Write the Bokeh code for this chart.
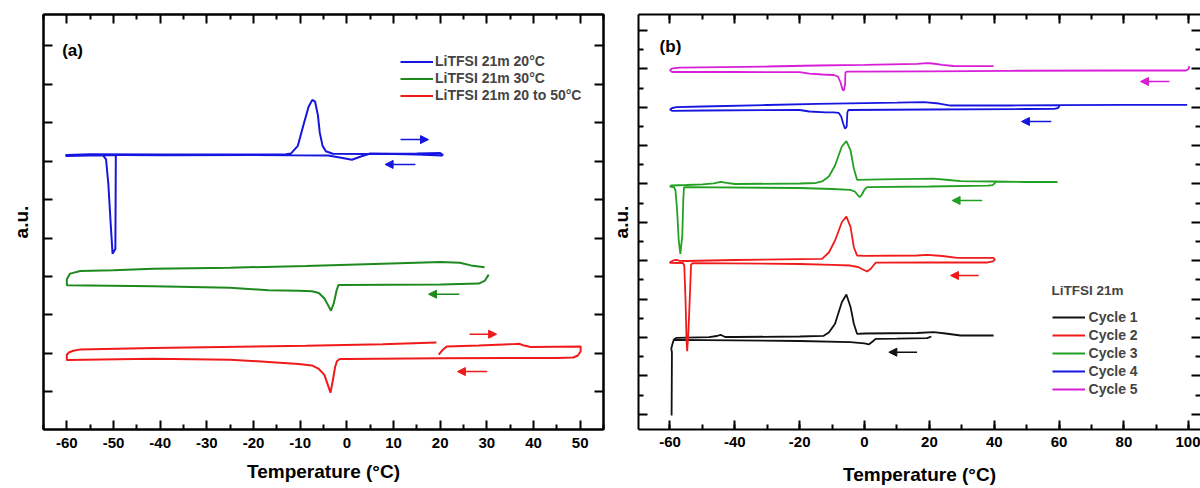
import numpy as np
from bokeh.plotting import figure
from bokeh.layouts import row
from bokeh.models import (Range1d, LinearAxis, FixedTicker, CustomJSTickFormatter,
                          Label, Legend, LegendItem, Arrow, NormalHead)
from bokeh.embed import file_html
from bokeh.resources import INLINE

FONT = "Liberation Sans"
NAN = float("nan")

# ---------------- Panel (a) data : temperature (°C) vs heat flow (a.u.) ----------------
a_x_ticks = [-60, -50, -40, -30, -20, -10, 0, 10, 20, 30, 40, 50]
a_y_ticks = [0, 1, 2, 3, 4, 5, 6, 7, 8, 9]

a20_T = [-60.3, -60, -55, -40, -20, -13, -12, -10.5, -9.4, -8.2, -7.4, -6.8, -6.2, -5.8, -5.2, -4.5, -3,
         5, 15, 20, 20.6, 20.3, 15, 5, 3, 1.1, -1.5, -4, -20, -40, -48, -52.3, -51.6, -51.1, -50.6,
         -50.2, -49.6, -49.5, -55, -60, -60.3]
a20_y = [6.15, 6.163, 6.181, 6.176, 6.176, 6.181, 6.20, 6.40, 6.899, 7.416, 7.597, 7.55, 7.20, 6.744,
         6.40, 6.261, 6.196, 6.189, 6.202, 6.214, 6.163, 6.15, 6.176, 6.202, 6.124, 6.039, 6.098, 6.15,
         6.163, 6.155, 6.163, 6.163, 6.047, 5.401, 4.367, 3.592, 3.721, 6.163, 6.15, 6.137, 6.15]

a30_T = [30.4, 29.6, 28.3, 20.1, -1.8, -2.2, -2.8, -3.4, -4.0, -4.8, -6, -7.5, -10.3, -16.8, -25, -41.5,
         -60, -60, -59.3, -57.1, -50, -41.5, -25, -8.7, 7.7, 20.1, 24.2, 26.6, 29.5]
a30_y = [3.049, 2.894, 2.817, 2.791, 2.778, 2.636, 2.300, 2.111, 2.248, 2.429, 2.571, 2.615, 2.628, 2.643,
         2.705, 2.747, 2.773, 2.928, 3.075, 3.145, 3.165, 3.204, 3.23, 3.274, 3.333, 3.377, 3.359, 3.289,
         3.238]

a2050_T = [19.2, 7.7, -8.7, -41.5, -57.1, -58.6, -59.6, -60, -60, -41.5, -25, -16.8, -10.3, -7.5, -6,
           -4.8, -4.0, -3.5, -3.0, -2.5, -2.1, -1.5, 0, 20, 45, 48.5, 49.5, 50.1, 50.1, 39.4, 38, 36.9,
           35.7, 28.3, 21.4, 20.5, 19.7]
a2050_y = [1.284, 1.240, 1.196, 1.137, 1.103, 1.067, 1.021, 0.964, 0.827, 0.860, 0.835, 0.775, 0.724,
           0.685, 0.594, 0.439, 0.155, -0.026, 0.30, 0.65, 0.801, 0.853, 0.853, 0.871, 0.879, 0.891,
           0.943, 1.047, 1.181, 1.163, 1.202, 1.250, 1.240, 1.207, 1.181, 1.085, 0.964]

a_labels = ["LiTFSI 21m 20°C", "LiTFSI 21m 30°C", "LiTFSI 21m 20 to 50°C"]
a_colors = ["#1616E0", "#1E8A1E", "#F01A1A"]

# scan-direction arrows: (x_start, x_end, y, colour index)
a_arrows = [(11.5, 17.5, 6.563, 0), (14.7, 8.2, 5.917, 0), (24.1, 17.5, 2.540, 1),
            (26.3, 32.1, 1.499, 2), (30.1, 23.7, 0.525, 2)]

# ---------------- Panel (b) data ----------------
b_x_ticks = [-60, -40, -20, 0, 20, 40, 60, 80, 100]
b_y_ticks = [0, 1, 2, 3, 4, 5, 6, 7, 8, 9, 10]

c1_T = [-59.5, -59.4, -59.6, -59.2, -58.8, -58, -48, -45.5, -44.4, -43, -40, -20, -12.6, -11, -9.1, -7.0,
        -5.6, -4.3, -3.3, -2.3, 0, 16.2, 21.3, 25, 29.6, 39.8, NAN, 20.6, 19.3, 10, 3.4, 2.5, 1.3, 0,
        -4.4, -20, -40, -58, -59]
c1_y = [-0.034, 1.608, 1.712, 1.843, 1.947, 1.991, 2.007, 2.038, 2.069, 2.012, 2.012, 2.025, 2.043,
        2.129, 2.356, 2.919, 3.120, 2.789, 2.356, 2.095, 2.103, 2.116, 2.137, 2.103, 2.051, 2.051, NAN,
        2.025, 1.981, 1.968, 1.965, 1.895, 1.817, 1.843, 1.876, 1.908, 1.926, 1.939, 1.934]

c2_T = [39.8, 28.6, 24, 19.3, 16.2, 0, -2.3, -3.3, -4.3, -5.6, -7.0, -9.1, -11, -13.1, -20, -40, -55,
        -57, -58, -59, -60, -60, -56, -55.6, -55.2, -54.9, -54.7, -54.3, -53.8, -53.5, -53, -20, -10,
        -4.4, -2, -0.5, 0.8, 2, 3.4, 20, 38, 39.6, 40.2, 39.8]
c2_y = [4.076, 4.076, 4.123, 4.154, 4.136, 4.128, 4.136, 4.352, 4.874, 5.152, 5.004, 4.527, 4.214,
        4.050, 4.042, 4.019, 3.993, 3.998, 4.024, 4.006, 3.961, 3.946, 3.941, 3.875, 2.963, 1.921,
        1.642, 2.181, 3.224, 3.901, 3.935, 3.915, 3.894, 3.875, 3.836, 3.771, 3.719, 3.797, 3.948,
        3.954, 3.954, 3.980, 4.030, 4.076]

c3_T = [59.5, 50, 40, 29.6, 26, 21.3, 16.2, 5, -2.3, -3.3, -4.3, -5.6, -7.0, -9.1, -11, -13.1, -15, -20,
        -40, -42.5, -44.4, -46.5, -50, -55, -59.6, -60, -58.8, -58.3, -57.8, -57.3, -56.8, -56.2, -55.9,
        -55.7, -55, -20, -10, -4.4, -3, -2, -1.5, -0.8, 0, 0.8, 20, 38, 39.5, 40.3, 40]
c3_y = [6.052, 6.052, 6.065, 6.072, 6.104, 6.138, 6.135, 6.122, 6.109, 6.404, 6.873, 7.115, 6.977,
        6.482, 6.195, 6.065, 6.026, 6.013, 5.999, 6.026, 6.052, 6.013, 5.990, 5.973, 5.960, 5.934,
        5.921, 5.830, 5.309, 4.527, 4.180, 4.657, 5.569, 5.908, 5.916, 5.895, 5.869, 5.848, 5.804,
        5.700, 5.655, 5.726, 5.856, 5.916, 5.934, 5.955, 5.970, 6.030, 6.065]

c4_T = [99.5, 80, 60, 45, 26.5, 23, 18.3, 10, -14.6, -30, -50, -58, -59.3, -60, -59.4, -50, -20, -17,
        -12, -9.5, -8.0, -7.2, -6.6, -6.0, -5.5, -5.3, -5.0, 20, 50, 58.5, 59.7, 60.2]
c4_y = [8.064, 8.064, 8.056, 8.045, 8.045, 8.097, 8.131, 8.118, 8.090, 8.058, 8.019, 8.001, 7.980,
        7.941, 7.907, 7.915, 7.928, 7.889, 7.868, 7.868, 7.855, 7.759, 7.576, 7.438, 7.498, 7.863,
        7.928, 7.941, 7.954, 7.959, 7.980, 8.045]

c5_T = [39.8, 30, 27.4, 24, 21, 19.3, 16.2, 0, -14.6, -30, -50, -57, -59.2, -60, -59.6, -59, -40, -20,
        -17, -13, -9.5, -8.2, -7.4, -6.8, -6.4, -6.0, -5.9, -5.5, 20, 45, 80, 99, 99.8, 100.2]
c5_y = [9.070, 9.070, 9.075, 9.106, 9.140, 9.148, 9.132, 9.106, 9.088, 9.062, 9.041, 9.030, 9.015,
        8.971, 8.931, 8.918, 8.918, 8.913, 8.874, 8.853, 8.840, 8.801, 8.645, 8.462, 8.436, 8.593,
        8.905, 8.926, 8.937, 8.950, 8.958, 8.958, 8.984, 9.070]

b_labels = ["Cycle 1", "Cycle 2", "Cycle 3", "Cycle 4", "Cycle 5"]
b_colors = ["#111111", "#F01A1A", "#22A022", "#1616E0", "#D81ED8"]
b_arrows = [(16.2, 7.5, 1.616, 0), (35.2, 26.5, 3.615, 1), (36.3, 27.0, 5.569, 2),
            (57.6, 48.4, 7.628, 3), (94.0, 85.1, 8.671, 4)]


def blank_formatter():
    return CustomJSTickFormatter(code="return ''")


def style_axis(ax, ticks, minor, labelled, standoff):
    ax.ticker = FixedTicker(ticks=ticks, minor_ticks=minor)
    ax.axis_line_color = "black"
    ax.axis_line_width = 2
    ax.major_tick_in = 9
    ax.major_tick_out = 0
    ax.minor_tick_in = 5
    ax.minor_tick_out = 0
    ax.major_tick_line_width = 2
    ax.minor_tick_line_width = 2
    ax.major_tick_line_color = "black"
    ax.minor_tick_line_color = "black"
    ax.axis_label_text_font = FONT
    ax.axis_label_text_font_style = "bold"
    ax.axis_label_text_font_size = "19px"
    ax.axis_label_text_color = "black"
    if labelled:
        ax.major_label_overrides = {t: str(t) for t in ticks}
        ax.major_label_text_font = FONT
        ax.major_label_text_font_style = "bold"
        ax.major_label_text_font_size = "15px"
        ax.major_label_text_color = "black"
        ax.major_label_standoff = standoff
    else:
        ax.formatter = blank_formatter()
        ax.major_label_standoff = 0


def make_fig(width, xr, yr, bl, br, bb, xt, xminor, yt, yminor, standoff, outline):
    p = figure(width=width, height=488, x_range=Range1d(*xr), y_range=Range1d(*yr),
               output_backend="svg", toolbar_location=None,
               min_border_left=bl, min_border_right=br, min_border_top=14, min_border_bottom=bb,
               background_fill_color="white", border_fill_color="white")
    p.grid.visible = False
    if outline:
        p.outline_line_color = "black"
        p.outline_line_width = 2
    else:
        p.outline_line_color = None
    p.add_layout(LinearAxis(), "above")
    p.add_layout(LinearAxis(), "right")
    style_axis(p.below[0], xt, xminor, True, standoff)
    style_axis(p.above[0], xt, xminor, False, 0)
    style_axis(p.left[0], yt, yminor, False, 0)
    style_axis(p.right[0], yt, yminor, False, 0)
    if not outline:
        p.right[0].axis_line_color = None
    return p


def add_text(p, x, y, text, size):
    p.add_layout(Label(x=x, y=y, text=text,
                       text_font=FONT, text_font_style="bold", text_font_size=size,
                       text_color="black", text_align="left", text_baseline="middle"))


def add_arrows(p, arrows, colors):
    for xs, xe, y, ci in arrows:
        c = colors[ci]
        p.add_layout(Arrow(end=NormalHead(size=8, fill_color=c, line_color=c, line_width=1),
                           x_start=xs, y_start=y, x_end=xe, y_end=y,
                           line_color=c, line_width=1.5))


# ---------------- Panel (a) ----------------
pa = make_fig(605, (-65, 55), (-0.982, 9.819), 43, 2, 56,
              a_x_ticks, [t + 5 for t in range(-70, 55, 10)], a_y_ticks, [], 8, True)
pa.below[0].axis_label = "Temperature (°C)"
pa.below[0].axis_label_standoff = 10
pa.left[0].axis_label = "a.u."
pa.left[0].axis_label_standoff = 12
ra = []
for T, y, c in zip([a20_T, a30_T, a2050_T], [a20_y, a30_y, a2050_y], a_colors):
    ra.append(pa.line(np.array(T), np.array(y), line_color=c, line_width=2))
add_arrows(pa, a_arrows, a_colors)
leg_a = Legend(items=[LegendItem(label=l, renderers=[r]) for l, r in zip(a_labels, ra)],
               location=(357, 325.5), padding=0, margin=0, spacing=0,
               glyph_width=33, glyph_height=17, label_height=17, label_standoff=2,
               label_text_font=FONT, label_text_font_style="bold", label_text_font_size="14px",
               border_line_color=None, background_fill_alpha=0)
pa.add_layout(leg_a)
add_text(pa, -61, 8.889, "(a)", "17px")

# ---------------- Panel (b) ----------------
pb = make_fig(595, (-69.71, 103.61), (-0.399, 10.417), 33, 0, 59,
              b_x_ticks, list(range(-70, 110, 10)), b_y_ticks, [i + 0.5 for i in range(-1, 11)], 7, False)
pb.below[0].axis_label = "Temperature (°C)"
pb.below[0].axis_label_standoff = 14
pb.left[0].axis_label = "a.u."
pb.left[0].axis_label_standoff = 7
rb = []
for T, y, c in zip([c1_T, c2_T, c3_T, c4_T, c5_T], [c1_y, c2_y, c3_y, c4_y, c5_y], b_colors):
    rb.append(pb.line(np.array(T, dtype=float), np.array(y, dtype=float), line_color=c, line_width=1.8))
add_arrows(pb, b_arrows, b_colors)
leg_b = Legend(items=[LegendItem(label=l, renderers=[r]) for l, r in zip(b_labels, rb)],
               location=(413.6, 31.3), padding=0, margin=0, spacing=0,
               glyph_width=33, glyph_height=18, label_height=18, label_standoff=4,
               title="LiTFSI 21m", title_text_font=FONT, title_text_font_style="bold",
               title_text_font_size="13.5px", title_standoff=10,
               label_text_font=FONT, label_text_font_style="bold", label_text_font_size="14px",
               border_line_color=None, background_fill_alpha=0)
pb.add_layout(leg_b)
add_text(pb, -63.2, 9.591, "(b)", "17px")

layout = row(pa, pb)
open("out.html", "w").write(file_html(layout, INLINE))
